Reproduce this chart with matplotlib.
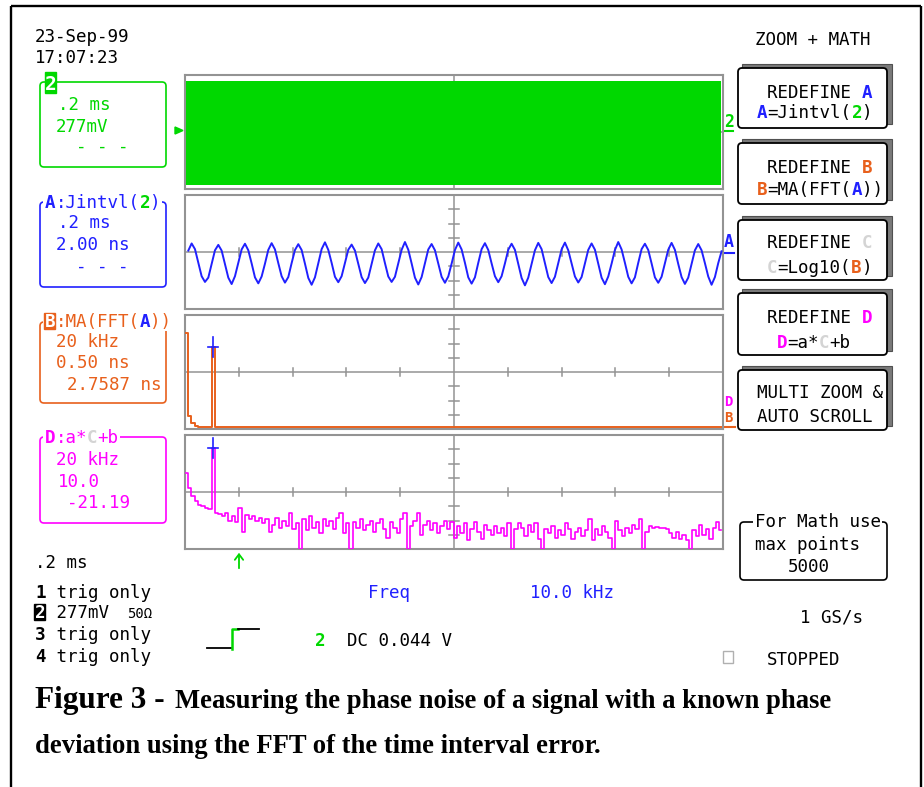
import numpy as np
import matplotlib.pyplot as plt
from matplotlib.patches import Rectangle, FancyBboxPatch, Polygon

W, H = 924, 787
MONO = "DejaVu Sans Mono"
SERIF = "Liberation Serif"
FS = 12.6
CW = 0.602 * FS * 100 / 72   # advance of one mono character, px

GREEN = "#00d800"
BLUE = "#2020ff"
ORANGE = "#e8601c"
MAGENTA = "#ff00ff"
PALE = "#d4d4d4"
GRID = "#939393"

# channel 2: the carrier is far too fast for 0.2 ms/div, it shows as a solid band (div)
ch2_t = [0.004, 1.993]            # ms
ch2_top = [3.58, 3.58]
ch2_bottom = [-3.72, -3.72]

# trace A = Jintvl(2), 0.2 ms/div, 2 ns/div, values in divisions
a_t0, a_dt = 0.0123, 0.01239      # ms
a_trace = [
    0.10, 0.60, 0.20, -0.75, -1.70, -2.10, -1.80, -0.85,
    0.12, 0.50, 0.10, -0.85, -1.80, -2.25, -1.70, -0.75,
    0.18, 0.58, 0.12, -0.80, -1.78, -2.20, -1.72, -0.82,
    0.15, 0.62, 0.18, -0.78, -1.70, -2.15, -1.76, -0.78,
    0.14, 0.55, 0.14, -0.82, -1.82, -2.30, -1.78, -0.80,
    0.20, 0.68, 0.15, -0.76, -1.74, -2.12, -1.70, -0.76,
    0.16, 0.52, 0.10, -0.84, -1.76, -2.18, -1.80, -0.84,
    0.12, 0.60, 0.20, -0.78, -1.72, -2.10, -1.74, -0.80,
    0.15, 0.70, 0.16, -0.80, -1.80, -2.28, -1.76, -0.78,
    0.18, 0.56, 0.12, -0.82, -1.74, -2.16, -1.72, -0.82,
    0.14, 0.66, 0.18, -0.76, -1.78, -2.22, -1.78, -0.76,
    0.20, 0.62, 0.14, -0.80, -1.70, -2.12, -1.70, -0.80,
    0.16, 0.58, 0.15, -0.84, -1.82, -2.34, -1.80, -0.84,
    0.12, 0.64, 0.20, -0.78, -1.76, -2.18, -1.74, -0.78,
    0.18, 0.66, 0.12, -0.80, -1.72, -2.14, -1.76, -0.80,
    0.15, 0.60, 0.16, -0.82, -1.80, -2.26, -1.72, -0.82,
    0.14, 0.70, 0.18, -0.76, -1.74, -2.20, -1.78, -0.76,
    0.20, 0.58, 0.14, -0.80, -1.78, -2.16, -1.74, -0.80,
    0.16, 0.64, 0.15, -0.84, -1.76, -2.24, -1.80, -0.84,
    0.12, 0.56, 0.12, -0.78, -1.72, -2.30, -1.76, -0.78,
    0.05,
]

# traces B = MA(FFT(A)) and D = a*C+b, 20 kHz/div, values in divisions
f0, df = 0.5, 1.25                # kHz
b_trace = [
    2.75, -3.10, -3.60, -3.78, -3.84, -3.86, -3.87, -3.87, 1.75,
    -3.88, -3.88, -3.88, -3.88, -3.88, -3.88, -3.88, -3.88, -3.88, -3.88,
    -3.88, -3.88, -3.88, -3.88, -3.88, -3.88, -3.88, -3.84, -3.88, -3.88,
    -3.88, -3.88, -3.88, -3.88, -3.88, -3.84, -3.88, -3.88, -3.88, -3.88,
    -3.88, -3.84, -3.88, -3.88, -3.88, -3.88, -3.88, -3.88, -3.88, -3.88,
    -3.88, -3.88, -3.88, -3.88, -3.84, -3.88, -3.88, -3.88, -3.88, -3.88,
    -3.88, -3.88, -3.88, -3.88, -3.88, -3.88, -3.84, -3.88, -3.88, -3.88,
    -3.88, -3.88, -3.88, -3.84, -3.88, -3.88, -3.88, -3.88, -3.88, -3.88,
    -3.88, -3.88, -3.88, -3.88, -3.88, -3.84, -3.88, -3.88, -3.88, -3.88,
    -3.88, -3.88, -3.88, -3.88, -3.88, -3.88, -3.88, -3.84, -3.88, -3.88,
    -3.88, -3.88, -3.84, -3.88, -3.88, -3.88, -3.88, -3.88, -3.88, -3.88,
    -3.88, -3.88, -3.88, -3.88, -3.88, -3.88, -3.84, -3.88, -3.88, -3.88,
    -3.88, -3.88, -3.88, -3.88, -3.84, -3.88, -3.88, -3.88, -3.88, -3.88,
    -3.88, -3.88, -3.88, -3.88, -3.88, -3.88, -3.88, -3.88, -3.84, -3.88,
    -3.88, -3.88, -3.88, -3.88, -3.88, -3.88, -3.88, -3.88, -3.88, -3.88,
    -3.88, -3.84, -3.88, -3.88, -3.88, -3.88, -3.88, -3.88, -3.88, -3.88,
    -3.88,
]
d_trace = [
    1.30, 0.30, -0.25, -0.60, -0.90, -1.00, -1.10, -1.20, 3.10,
    -1.45, -1.55, -1.70, -1.50, -2.00, -1.70, -2.10,
    -1.10, -2.80, -1.60, -1.90, -1.70, -2.00, -1.80,
    -2.20, -1.90, -2.80, -2.30, -1.80, -2.50, -2.00,
    -2.40, -1.45, -2.60, -2.20, -4.00, -1.90, -2.70,
    -1.65, -2.50, -2.10, -2.90, -1.90, -2.40, -2.00,
    -2.60, -1.80, -1.45, -2.90, -2.20, -4.00, -2.10,
    -2.50, -1.90, -2.70, -2.30, -2.00, -2.80, -2.20,
    -1.90, -2.60, -3.20, -2.10, -2.50, -2.90, -1.90,
    -1.50, -4.00, -2.40, -2.00, -1.44, -3.00, -2.30,
    -2.00, -2.70, -2.20, -2.90, -2.40, -2.00, -2.60,
    -2.10, -3.20, -2.40, -2.90, -2.20, -3.40, -2.60,
    -2.10, -2.80, -3.30, -2.30, -2.70, -3.00, -2.40,
    -2.90, -2.50, -3.10, -2.20, -4.00, -2.60, -2.20,
    -2.50, -3.10, -2.30, -2.80, -2.20, -3.30, -4.00,
    -2.60, -2.90, -2.40, -3.20, -2.70, -3.00, -2.20,
    -2.60, -3.30, -2.80, -2.50, -3.10, -2.70, -1.90,
    -3.40, -2.60, -3.00, -2.40, -2.80, -3.20, -4.00,
    -2.00, -2.70, -3.10, -2.50, -2.90, -2.30, -2.60,
    -1.90, -4.00, -2.80, -2.40, -2.50, -2.45, -2.55,
    -2.50, -2.60, -2.90, -3.20, -2.80, -3.30, -3.00,
    -3.40, -4.00, -2.70, -3.10, -2.30, -3.00, -2.60,
    -3.30, -2.50, -2.10, -2.70,
]

fig = plt.figure(figsize=(W / 100, H / 100), dpi=100)
bg = fig.add_axes([0, 0, 1, 1])
bg.set_xlim(0, W)
bg.set_ylim(H, 0)
bg.axis("off")


def say(x, base, parts, size=FS):
    if isinstance(parts, str):
        parts = [(parts, "black")]
    cw = 0.602 * size * 100 / 72
    for part in parts:
        txt, col = part[0], part[1]
        how = part[2] if len(part) > 2 else ""
        if how == "inv":
            bg.add_patch(Rectangle((x - 1, base - 14.5), cw * len(txt), 16,
                                   color=col, zorder=4))
            col = "white"
        bg.text(x, base, txt, color=col, family=MONO, size=size,
                weight="bold" if how in ("b", "inv") else "normal",
                ha="left", va="baseline", zorder=5)
        x += cw * len(txt)


def rbox(x0, y0, x1, y1, col, lw=1.2):
    bg.add_patch(FancyBboxPatch((x0, y0), x1 - x0, y1 - y0,
                                boxstyle="round,pad=0,rounding_size=4",
                                fc="none", ec=col, lw=lw, zorder=2))


def title(x, base, parts):
    n = sum(len(p[0]) for p in parts)
    bg.add_patch(Rectangle((x - 2, base - 16), n * CW + 3, 20,
                           fc="white", ec="none", zorder=3))
    say(x, base, parts)


def grid_panel(top, xmax):
    ax = fig.add_axes([185 / W, 1 - (top + 114) / H, 538 / W, 114 / H])
    ax.set_xlim(0, xmax)
    ax.set_ylim(-4, 4)
    ax.set_xticks([])
    ax.set_yticks([])
    for s in ax.spines.values():
        s.set_color(GRID)
        s.set_linewidth(1.5)
    kw = dict(color=GRID, lw=1.1, zorder=1)
    ax.axhline(0, **kw)
    ax.axvline(xmax / 2, **kw)
    dx = xmax / 10
    for k in (1, 2, 3, 4, 6, 7, 8, 9):
        ax.plot([k * dx] * 2, [-0.28, 0.28], **kw)
    for k in (-3, -2, -1, 1, 2, 3):
        ax.plot([xmax / 2 - 0.095 * dx, xmax / 2 + 0.095 * dx], [k, k], **kw)
    return ax


# --- grids and traces
ax1 = grid_panel(75, 2.0)
ax1.fill_between(ch2_t, ch2_bottom, ch2_top, color=GREEN, lw=0, zorder=3)

ax2 = grid_panel(195, 2.0)
a_t = a_t0 + a_dt * np.arange(len(a_trace))
ax2.plot(a_t, a_trace, color=BLUE, lw=1.4, zorder=3)

freq = f0 + df * np.arange(len(b_trace))
ax3 = grid_panel(315, 200.0)
ax3.plot(freq, b_trace, color=ORANGE, lw=1.4, drawstyle="steps-mid", zorder=3)

ax4 = grid_panel(435, 200.0)
ax4.plot(freq, d_trace, color=MAGENTA, lw=1.2, drawstyle="steps-mid", zorder=3)

for ax, tr in ((ax3, b_trace), (ax4, d_trace)):
    i = int(np.argmax(tr[4:])) + 4
    fc, v = freq[i], tr[i]
    ax.plot([fc, fc], [v - 0.7, v + 0.7], color=BLUE, lw=1.2, zorder=4)
    ax.plot([fc - 1.9, fc + 1.9], [v, v], color=BLUE, lw=1.2, zorder=4)

# --- outer frame
for xs, ys in (([11, 11], [6, H]), ([11, 921], [6, 6]), ([921, 921], [6, H])):
    bg.plot(xs, ys, color="black", lw=1.7, solid_capstyle="butt")

# --- date / time
say(35, 42, "23-Sep-99")
say(35, 63, "17:07:23")

# --- trace info boxes on the left
rbox(40, 82, 166, 167, GREEN)
bg.add_patch(Rectangle((45, 72), 11, 21, color=GREEN, zorder=4))
bg.text(50.5, 90, "2", color="white", family=MONO, size=14, weight="bold",
        ha="center", va="baseline", zorder=5)
say(58, 110, [(".2 ms", GREEN)])
say(56, 132, [("277mV", GREEN)])
say(76, 152.5, [("- - -", GREEN)])

rbox(40, 202, 166, 287, BLUE)
title(45, 208, [("A", BLUE, "b"), (":Jintvl(", BLUE), ("2", GREEN, "b"), (")", BLUE)])
say(58, 228, [(".2 ms", BLUE)])
say(56, 250, [("2.00 ns", BLUE)])
say(76, 271.5, [("- - -", BLUE)])

rbox(40, 322, 166, 403, ORANGE)
title(45, 327, [("B", ORANGE, "inv"), (":MA(FFT(", ORANGE), ("A", BLUE, "b"), ("))", ORANGE)])
say(56, 347, [("20 kHz", ORANGE)])
say(56, 368, [("0.50 ns", ORANGE)])
say(67, 390, [("2.7587 ns", ORANGE)])

rbox(40, 437, 166, 523, MAGENTA)
title(45, 443, [("D", MAGENTA, "b"), (":a*", MAGENTA), ("C", PALE, "b"), ("+b", MAGENTA)])
say(56, 465, [("20 kHz", MAGENTA)])
say(58, 487, [("10.0", MAGENTA)])
say(67, 508, [("-21.19", MAGENTA)])

say(35, 568, ".2 ms")

# --- trace markers beside the grid
bg.add_patch(Polygon([(175, 127), (175, 134), (183, 130.5)], color=GREEN))
bg.text(724, 127, "2", color=GREEN, family=MONO, size=12, weight="bold", va="baseline")
bg.plot([724, 733], [131, 131], color=GREEN, lw=1.5)
bg.text(724, 247, "A", color=BLUE, family=MONO, size=12, weight="bold", va="baseline")
bg.plot([723, 734], [253, 253], color=BLUE, lw=1.5)
bg.text(724, 406, "D", color=MAGENTA, family=MONO, size=10, weight="bold", va="baseline")
bg.text(724, 422, "B", color=ORANGE, family=MONO, size=10, weight="bold", va="baseline")
bg.plot([722, 735], [427, 427], color=ORANGE, lw=1.5)
bg.annotate("", xy=(239, 550), xytext=(239, 571),
            arrowprops=dict(arrowstyle="->,head_width=0.3,head_length=0.4",
                            color=GREEN, lw=1.3))

# --- channel list and readouts
say(35, 598, [("1", "black", "b"), (" trig only", "black")])
say(35, 618, [("2", "black", "inv"), (" 277mV", "black")])
say(127, 618, "50Ω", size=10)
say(35, 640, [("3", "black", "b"), (" trig only", "black")])
say(35, 662, [("4", "black", "b"), (" trig only", "black")])

say(368, 598, [("Freq", BLUE)])
say(530, 598, [("10.0 kHz", BLUE)])

bg.plot([207, 231], [648, 648], color="black", lw=1.3)
bg.plot([232, 232, 238], [648.5, 629, 629], color=GREEN, lw=1.8)
bg.plot([238, 259], [629, 629], color="black", lw=1.3)
say(315, 646, [("2", GREEN, "b")])
say(347, 646, "DC 0.044 V")

# --- right hand menu
say(755, 45, "ZOOM + MATH")


def button(y0, y1, lines):
    bg.add_patch(Rectangle((742, y0 - 4), 150, y1 - y0, fc="#7a7a7a", ec="#505050",
                           lw=0.8, zorder=1))
    bg.add_patch(FancyBboxPatch((738, y0), 149, y1 - y0,
                                boxstyle="round,pad=0,rounding_size=4",
                                fc="white", ec="black", lw=1.3, zorder=2))
    for x, base, parts in lines:
        say(x, base, parts)


button(68, 128, [(767, 98, [("REDEFINE ", "black"), ("A", BLUE, "b")]),
                 (757, 118, [("A", BLUE, "b"), ("=Jintvl(", "black"), ("2", GREEN, "b"), (")", "black")])])
button(143, 204, [(767, 173, [("REDEFINE ", "black"), ("B", ORANGE, "b")]),
                  (757, 195, [("B", ORANGE, "b"), ("=MA(FFT(", "black"), ("A", BLUE, "b"), ("))", "black")])])
button(220, 280, [(767, 248, [("REDEFINE ", "black"), ("C", PALE, "b")]),
                  (767, 273, [("C", PALE, "b"), ("=Log10(", "black"), ("B", ORANGE, "b"), (")", "black")])])
button(293, 355, [(767, 323, [("REDEFINE ", "black"), ("D", MAGENTA, "b")]),
                  (777, 348, [("D", MAGENTA, "b"), ("=a*", "black"), ("C", PALE, "b"), ("+b", "black")])])
button(370, 430, [(757, 398, "MULTI ZOOM &"),
                  (757, 422, "AUTO SCROLL")])

rbox(740, 522, 887, 580, "black", lw=1.2)
title(755, 527, [("For Math use", "black")])
say(755, 550, "max points")
say(788, 572, "5000")

say(800, 623, "1 GS/s")
bg.add_patch(Rectangle((723, 651), 10, 12, fc="none", ec="#b0b0b0", lw=1.0))
say(767, 665, "STOPPED")

# --- caption
bg.text(35, 708, "Figure 3 -", family=SERIF, weight="bold", size=22.5, va="baseline")
bg.text(175, 708, "Measuring the phase noise of a signal with a known phase",
        family=SERIF, weight="bold", size=19.2, va="baseline")
bg.text(35, 753, "deviation using the FFT of the time interval error.",
        family=SERIF, weight="bold", size=19.2, va="baseline")

fig.savefig("out.png", dpi=100)
